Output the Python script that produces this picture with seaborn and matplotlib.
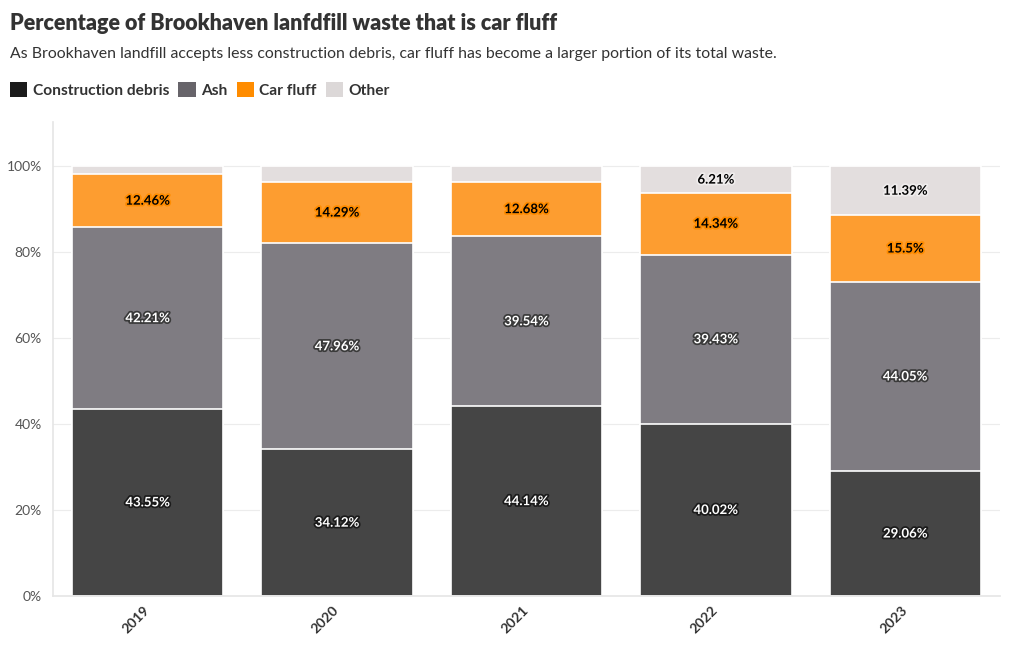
import matplotlib
matplotlib.use("Agg")
import matplotlib.pyplot as plt
import matplotlib.patheffects as pe
from matplotlib.patches import Patch
import numpy as np
import pandas as pd
import seaborn as sns

years = ["2019", "2020", "2021", "2022", "2023"]
series_names = ["Construction debris", "Ash", "Car fluff", "Other"]
construction = [43.55, 34.12, 44.14, 40.02, 29.06]
ash = [42.21, 47.96, 39.54, 39.43, 44.05]
car_fluff = [12.46, 14.29, 12.68, 14.34, 15.5]
other = [1.78, 3.63, 3.64, 6.21, 11.39]
label_other = [False, False, False, True, True]

bar_colors = ["#454545", "#7f7c82", "#fd9d30", "#e3dede"]
legend_colors = ["#1b1b1b", "#67646a", "#ff8c00", "#dcd8d8"]
text_colors = ["white", "white", "black", "black"]
halo_colors = ["#1b1b1b", "#3a3a3a", "#ff8c00", "#f0eded"]

sns.set_theme(style="white")
plt.rcParams["font.family"] = ["Lato", "DejaVu Sans"]

fig = plt.figure(figsize=(10.2, 6.5), dpi=100)
ax = fig.add_axes([53/1020, 1 - 596/650, (1000-53)/1020, (596-122)/650])

series = [construction, ash, car_fluff, other]
cum = np.zeros(len(years))
cums = []
for s in series:
    cum = cum + np.array(s)
    cums.append(cum.copy())

# draw from top (largest cumulative) down so lower segments overlay
for i in reversed(range(len(series))):
    d = pd.DataFrame({"year": years, "val": cums[i]})
    sns.barplot(data=d, x="year", y="val", color=bar_colors[i], saturation=1,
                width=0.8, edgecolor="white", linewidth=1.2, ax=ax)

# labels
for i, s in enumerate(series):
    for j, v in enumerate(s):
        if i == 3 and not label_other[j]:
            continue
        center = cums[i][j] - v / 2
        txt = f"{v:g}%"
        ax.text(j, center, txt, ha="center", va="center", fontsize=9.5,
                fontweight="bold", color=text_colors[i],
                path_effects=[pe.withStroke(linewidth=2.5, foreground=halo_colors[i])])

ax.set_xlim(-0.5, 4.5)
ax.set_ylim(0, 110.3)
ax.set_yticks([0, 20, 40, 60, 80, 100])
ax.set_yticklabels(["0%", "20%", "40%", "60%", "80%", "100%"], fontsize=10, color="#555555")
ax.set_xlabel("")
ax.set_ylabel("")
ax.grid(axis="y", color="#ececec", linewidth=0.8)
ax.set_axisbelow(True)
for sp in ["top", "right"]:
    ax.spines[sp].set_visible(False)
ax.spines["left"].set_color("#e6e6e6")
ax.spines["bottom"].set_color("#e6e6e6")
ax.tick_params(axis="y", length=0, pad=8)
ax.tick_params(axis="x", length=3, color="#cccccc", pad=6)
for lab in ax.get_xticklabels():
    lab.set_rotation(45)
    lab.set_rotation_mode("anchor")
    lab.set_fontweight("bold")
    lab.set_fontsize(10)
    lab.set_color("#333333")
    lab.set_ha("right")
    lab.set_va("center")

fig.text(10/1020, 1 - 23/650, "Percentage of Brookhaven lanfdfill waste that is car fluff",
         fontsize=15.5, fontweight="heavy", color="#333333", va="center", ha="left")
fig.text(10/1020, 1 - 54/650,
         "As Brookhaven landfill accepts less construction debris, car fluff has become a larger portion of its total waste.",
         fontsize=11.4, color="#333333", va="center", ha="left")

handles = [Patch(facecolor=c, edgecolor="none", label=n) for c, n in zip(legend_colors, series_names)]
leg = fig.legend(handles=handles, loc="center left", bbox_to_anchor=(4/1020, 1 - 90/650),
                 ncol=4, frameon=False, handlelength=1.1, handleheight=1.1,
                 handletextpad=0.35, columnspacing=0.6, borderaxespad=0,
                 prop={"weight": "bold", "size": 11.2})
for t in leg.get_texts():
    t.set_color("#333333")

fig.savefig("out.png", dpi=100)
